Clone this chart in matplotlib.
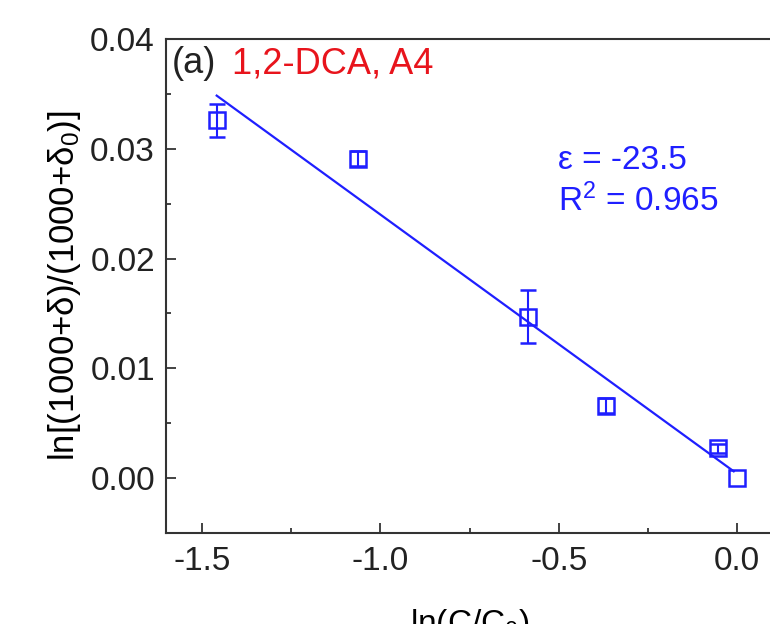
import numpy as np
import matplotlib.pyplot as plt
from matplotlib.ticker import MultipleLocator

# data
ln_c = [-1.458, -1.061, -0.587, -0.368, -0.055, 0.0]
ln_ratio = [0.0326, 0.0291, 0.0147, 0.0066, 0.0027, 0.0]
ln_err = [0.0015, 0.0007, 0.0024, 0.0007, 0.0004, np.nan]
eps_text = "ε = -23.5"
r2_text = "R$^2$ = 0.965"

plt.rcParams["font.family"] = ["Liberation Sans", "DejaVu Sans"]
plt.rcParams["mathtext.fontset"] = "custom"
plt.rcParams["mathtext.rm"] = "Liberation Sans"
plt.rcParams["mathtext.it"] = "Liberation Sans"

fig = plt.figure(figsize=(7.7, 6.24), dpi=100)
W, H = 770, 624
# axes run a little past the right edge, as in the cropped original
ax = fig.add_axes([166 / W, 1 - 533 / H, (773 - 166) / W, (533 - 39) / H])

blue = "#1f1fff"
x = np.array(ln_c)
y = np.array(ln_ratio)

ax.errorbar(x, y, yerr=ln_err, fmt="s", mfc="none", mec=blue, ms=11, mew=1.8,
            ecolor=blue, elinewidth=1.5, capsize=6, capthick=1.5, zorder=3)

k, b = np.polyfit(x, y, 1)
xf = np.array([x.min(), -0.01])
ax.plot(xf, k * xf + b, color=blue, lw=1.6, zorder=2)

ax.set_xlim(-1.6, 0.1)
ax.set_ylim(-0.005, 0.04)
ax.xaxis.set_major_locator(MultipleLocator(0.5))
ax.xaxis.set_minor_locator(MultipleLocator(0.25))
ax.yaxis.set_major_locator(MultipleLocator(0.01))
ax.yaxis.set_minor_locator(MultipleLocator(0.005))
ax.xaxis.set_major_formatter(plt.FuncFormatter(lambda v, p: f"{v:.1f}"))
ax.yaxis.set_major_formatter(plt.FuncFormatter(lambda v, p: f"{v:.2f}"))

ax.tick_params(which="both", direction="in", colors="#222222", labelsize=24, width=1.2)
ax.tick_params(which="major", length=7)
ax.tick_params(which="minor", length=3.5)
ax.tick_params(axis="x", pad=9)
ax.tick_params(axis="y", pad=8)
for s in ax.spines.values():
    s.set_linewidth(1.5)
    s.set_color("#333333")

ax.set_ylabel(r"ln[(1000+δ)/(1000+δ$_0$)]", fontsize=25, labelpad=5)
ax.set_xlabel(r"ln(C/C$_0$)", fontsize=24, labelpad=22)

ax.text(0.01, 0.95, "(a)", transform=ax.transAxes, fontsize=26,
        color="#222222", ha="left", va="center")
ax.text(0.108, 0.95, "1,2-DCA, A4", transform=ax.transAxes, fontsize=26,
        color="#e8141c", ha="left", va="center")
ax.text(0.645, 0.754, eps_text, transform=ax.transAxes, fontsize=24,
        color=blue, ha="left", va="center")
ax.text(0.645, 0.672, r2_text, transform=ax.transAxes, fontsize=24,
        color=blue, ha="left", va="center")

fig.savefig("out.png", dpi=100)
